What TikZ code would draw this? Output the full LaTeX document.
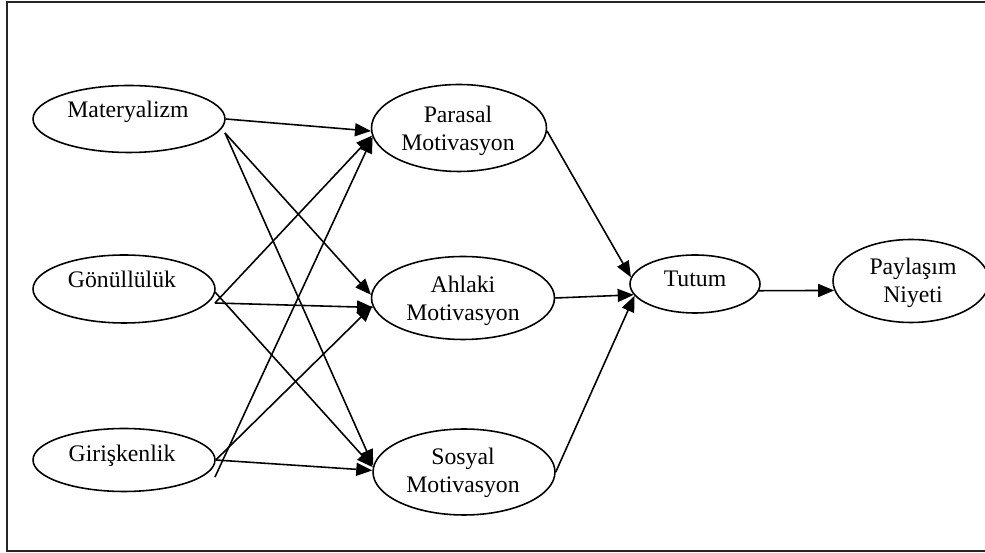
\documentclass[tikz,border=0pt]{standalone}
\usepackage{fontspec}
\setmainfont{Liberation Serif}
\usetikzlibrary{arrows.meta,shapes.geometric}
\begin{document}
\begin{tikzpicture}[x=0.02cm, y=-0.02cm,
  every node/.style={font=\fontsize{13.5}{16}\selectfont},
  oval/.style={ellipse, draw, line width=0.9pt, inner sep=0pt},
  lbl/.style={anchor=base, align=center, inner sep=0pt},
  conn/.style={line width=0.9pt, -{Triangle[length=0.32cm,width=0.26cm]}}]
\useasboundingbox (0,0) rectangle (985,553);
\draw[line width=1pt, black!85] (7,2) rectangle (990,551);
% ellipses: name/x/y/width/height
\foreach \n/\x/\y/\w/\h in {mat/129/119/3.84/1.34, gon/124/289/3.64/1.36, gir/124/460/3.64/1.26,
    par/459/128/3.50/1.74, ahl/463/298/3.66/1.66, sos/464/472/3.64/1.72,
    tut/695/284/2.60/1.16, pay/911/281/3.12/1.66}
  \node[oval, minimum width=\w cm, minimum height=\h cm] (\n) at (\x,\y) {};
% labels (base = last line)
\node[lbl] (matt) at (128,118) {Materyalizm};
\node[lbl] (gont) at (122,288) {Gönüllülük};
\node[lbl] (girt) at (122,462) {Girişkenlik};
\node[lbl] (part) at (458,151) {Parasal\\Motivasyon};
\node[lbl] (ahlt) at (463,321) {Ahlaki\\Motivasyon};
\node[lbl] (sost) at (463,493) {Sosyal\\Motivasyon};
\node[lbl] (tutt) at (695,287) {Tutum};
\node[lbl] (payt) at (913,303) {Paylaşım\\Niyeti};
% loose line starts
\coordinate (mat2) at (225,133);
\coordinate (gon1) at (215,303);
\coordinate (gon2) at (215,292);
\coordinate (gir2) at (215,477);
% paths
\foreach \a/\b in {mat.east/par.182, mat2/ahl.178, mat2/sos.176,
    gon1/par.185, gon1/ahl.186, gon2/sos.177,
    gir.east/sos.179, gir.east/ahl.185, gir2/par.186,
    par.358/tut.174, ahl.east/tut.190, sos.east/tut.191, tut.-6/pay.187}
  \draw[conn] (\a) -- (\b);
\end{tikzpicture}
\end{document}
